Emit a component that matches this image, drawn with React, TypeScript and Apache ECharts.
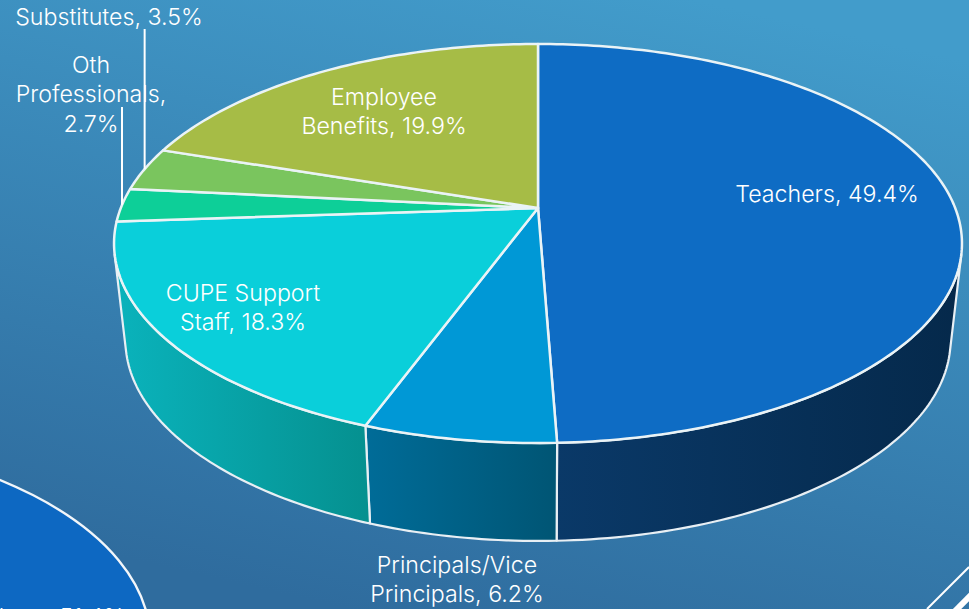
import React, { useEffect, useRef } from "react";
import * as echarts from "echarts";

const categories = ["Teachers", "Principals/Vice Principals", "CUPE Support Staff", "Oth Professionals", "Substitutes", "Employee Benefits"];
const shares = [49.4, 6.2, 18.3, 2.7, 3.5, 19.9];
const topColors = ["#0e6cc4", "#0098d6", "#0acfda", "#0dcf98", "#7ac55e", "#a6bc46"];
const sideColors: (string[] | null)[] = [["#0a3968", "#05294b"], ["#006c98", "#005574"], ["#0ab3bc", "#05908f"], null, null, null];
const labelLines = [
  ["Teachers, 49.4%"],
  ["Principals/Vice", "Principals, 6.2%"],
  ["CUPE Support", "Staff, 18.3%"],
  ["Oth", "Professionals,", "2.7%"],
  ["Substitutes, 3.5%"],
  ["Employee", "Benefits, 19.9%"],
];
const labelCentres = [[827, 194], [457, 579.5], [243, 307.5], [91, 94], [109, 16.5], [384, 111.5]];
const leaderTops = [null, null, null, 107, 29, null];
const neighbourLabel = "Teachers, 51.4%";

const K = 0.178;
const TOP = { cx: 538, cy: 208, a: 417.2, b: 193.2 };
const BASE = { cx: 538, cy: 304.2, a: 406, b: 194.6 };
const FONT = "Inter";
const LABEL_FONT = `300 23.2px ${FONT}`;

const project = (p: typeof TOP, deg: number) => {
  const t = (deg * Math.PI) / 180;
  const w = 1 + K * Math.cos(t);
  return [p.cx + (p.a * Math.sin(t)) / w, p.cy - (p.b * Math.cos(t)) / w];
};

const arc = (p: typeof TOP, from: number, to: number) => {
  const pts: number[][] = [];
  const n = Math.max(2, Math.ceil(Math.abs(to - from)));
  for (let i = 0; i <= n; i++) pts.push(project(p, from + ((to - from) * i) / n));
  return pts;
};

// angle at which the wall's ruling is tangent to the top rim
const silhouette = (lo: number, hi: number) => {
  const f = (d: number) => {
    const a = project(TOP, d - 0.05);
    const b = project(TOP, d + 0.05);
    const t = project(TOP, d);
    const u = project(BASE, d);
    return (b[0] - a[0]) * (u[1] - t[1]) - (b[1] - a[1]) * (u[0] - t[0]);
  };
  let l = lo;
  let h = hi;
  const fl = f(l);
  for (let i = 0; i < 40; i++) {
    const m = (l + h) / 2;
    if (f(m) * fl > 0) l = m;
    else h = m;
  }
  return (l + h) / 2;
};
const SIL_R = silhouette(60, 150);
const SIL_L = silhouette(210, 300);

let running = 0;
const spans = shares.map((v) => {
  const s = [running * 3.6, (running + v) * 3.6];
  running += v;
  return s;
});

const seriesData = shares.map((v, i) => ({ name: categories[i], value: [v, spans[i][0], spans[i][1], i] }));

export default function App() {
  const ref = useRef<HTMLDivElement>(null);
  useEffect(() => {
    document.body.style.margin = "0";
    const chart = echarts.init(ref.current!, null, { renderer: "svg" });
    chart.setOption({
      animation: false,
      backgroundColor: {
        type: "linear", x: 0.72, y: 0, x2: 0.36, y2: 1,
        colorStops: [{ offset: 0, color: "#429ccb" }, { offset: 1, color: "#2f6c9e" }],
      },
      graphic: [
        { type: "ellipse", shape: { cx: -250, cy: 640, rx: 400, ry: 205 }, style: { fill: "#0d68c2", stroke: "#f2f6fa", lineWidth: 2.4 }, z: 1 },
        { type: "text", x: 125, y: 605, style: { text: neighbourLabel, fill: "#fff", font: LABEL_FONT, textAlign: "right", textVerticalAlign: "top" }, z: 2 },
        { type: "line", shape: { x1: 927, y1: 609, x2: 969, y2: 567 }, style: { stroke: "#fff", lineWidth: 2 }, z: 2 },
        { type: "line", shape: { x1: 955, y1: 611, x2: 973, y2: 593 }, style: { stroke: "#fff", lineWidth: 6 }, z: 2 },
      ],
      series: [
        {
          type: "custom", coordinateSystem: "none", silent: true, z: 2, data: seriesData,
          renderItem: (_: any, api: any) => {
            const i = api.value(3);
            const cols = sideColors[i];
            if (!cols) return { type: "group", children: [] };
            const from = Math.max(api.value(1), SIL_R);
            const to = Math.min(api.value(2), SIL_L);
            const points = [...arc(TOP, from, to), ...arc(BASE, to, from)];
            return {
              type: "polygon",
              shape: { points },
              style: {
                fill: { type: "linear", x: 0, y: 0, x2: 1, y2: 0, colorStops: [{ offset: 0, color: cols[0] }, { offset: 1, color: cols[1] }] },
                stroke: "#e8eff4", lineWidth: 2.2, lineJoin: "round",
              },
            };
          },
        },
        {
          type: "custom", coordinateSystem: "none", silent: true, z: 3, data: seriesData,
          renderItem: (_: any, api: any) => {
            const i = api.value(3);
            const points = [[TOP.cx, TOP.cy], ...arc(TOP, api.value(1), api.value(2))];
            return {
              type: "polygon",
              shape: { points },
              style: { fill: topColors[i], stroke: "#eaf3f6", lineWidth: 2.5, lineJoin: "round" },
            };
          },
        },
        {
          type: "custom", coordinateSystem: "none", silent: true, z: 4, data: seriesData,
          renderItem: (_: any, api: any) => {
            const i = api.value(3);
            const children: any[] = [];
            const topY = leaderTops[i];
            if (topY !== null) {
              const p = project(TOP, (api.value(1) + api.value(2)) / 2);
              children.push({
                type: "line",
                shape: { x1: p[0], y1: topY, x2: p[0], y2: p[1] },
                style: { stroke: "#fff", lineWidth: 2 },
              });
            }
            children.push({
              type: "text",
              x: labelCentres[i][0],
              y: labelCentres[i][1],
              style: {
                text: labelLines[i].join("\n"),
                fill: "#fff",
                font: LABEL_FONT,
                lineHeight: 29.5,
                textAlign: "center",
                textVerticalAlign: "middle",
              },
            });
            return { type: "group", children };
          },
        },
      ],
    });
    return () => chart.dispose();
  }, []);
  return <div ref={ref} style={{ width: 969, height: 609, position: "fixed", left: 0, top: 0 }} />;
}
